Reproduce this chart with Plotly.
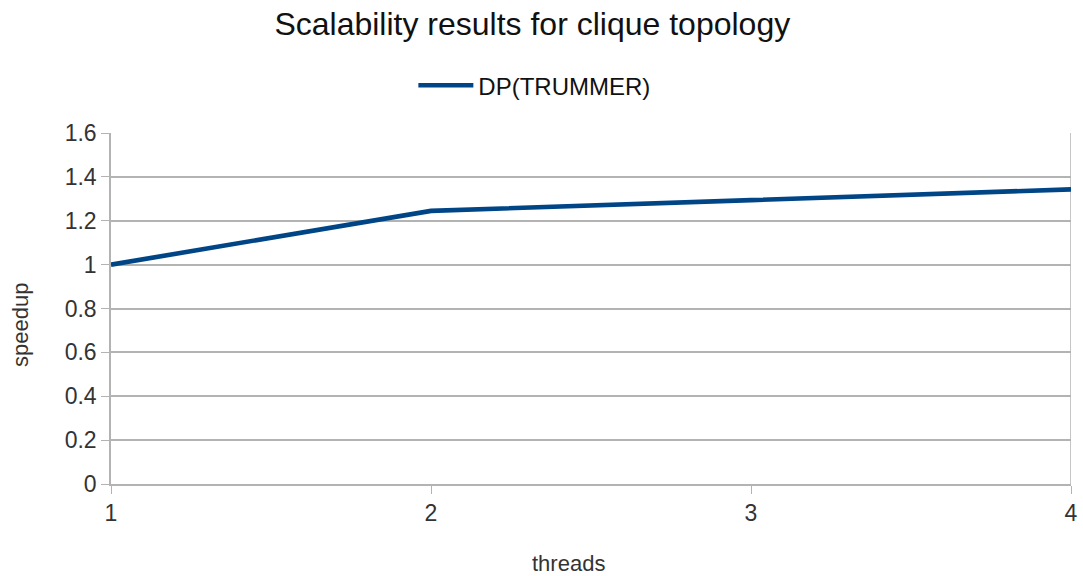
import plotly.graph_objects as go

threads = [1, 2, 3, 4]
speedup = [1.0, 1.245, 1.294, 1.343]
series_name = "DP(TRUMMER)"
y_ticks = [0, 0.2, 0.4, 0.6, 0.8, 1, 1.2, 1.4, 1.6]
y_tick_text = ["0", "0.2", "0.4", "0.6", "0.8", "1", "1.2", "1.4", "1.6"]
x_title = "threads"
y_title = "speedup"

fig = go.Figure()
fig.add_trace(go.Scatter(x=threads, y=speedup, mode="lines", name=series_name,
                         line=dict(color="#004586", width=4.6)))

grid = "#b3b3b3"
fig.update_layout(
    width=1083, height=576,
    paper_bgcolor="white", plot_bgcolor="white",
    margin=dict(l=111, r=12, t=133, b=92, autoexpand=False),
    font=dict(family="Liberation Sans, Arial, sans-serif", size=22, color="#333333"),
    title=dict(text="Scalability results for clique topology", x=0.4915, xanchor="center",
               y=0.958, yanchor="middle", font=dict(size=32, color="#111111")),
    showlegend=True,
    legend=dict(orientation="h", x=0.441, xanchor="center", y=1.135, yanchor="middle",
                font=dict(size=24, color="#111111"), itemwidth=55),
    xaxis=dict(range=[min(threads), max(threads)], tickmode="array", tickvals=threads,
               automargin=False,
               showgrid=False, zeroline=False, showline=True, linecolor=grid, linewidth=1.5,
               ticks="outside", ticklen=8, tickcolor=grid,
               tickfont=dict(size=23, color="#333333")),
    yaxis=dict(range=[0, 1.6], tickmode="array", tickvals=y_ticks, ticktext=y_tick_text,
               automargin=False,
               showgrid=True, gridcolor=grid, gridwidth=1.5, zeroline=False,
               showline=True, linecolor=grid, linewidth=1.5,
               ticks="outside", ticklen=8, tickcolor=grid,
               tickfont=dict(size=23, color="#333333")),
)
fig.add_annotation(text=x_title, xref="paper", yref="paper", x=(568 - 111) / 960,
                   y=-(563 - 484) / 351, xanchor="center", yanchor="middle",
                   showarrow=False, font=dict(size=22, color="#333333"))
fig.add_annotation(text=y_title, xref="paper", yref="paper", x=-(111 - 20) / 960,
                   y=(484 - 325) / 351, xanchor="center", yanchor="middle", textangle=-90,
                   showarrow=False, font=dict(size=22, color="#333333"))
fig.add_shape(type="line", xref="x", yref="y", x0=max(threads), x1=max(threads),
              y0=0, y1=max(y_ticks), line=dict(color=grid, width=1.5), layer="below")
fig.write_html("out.html")
